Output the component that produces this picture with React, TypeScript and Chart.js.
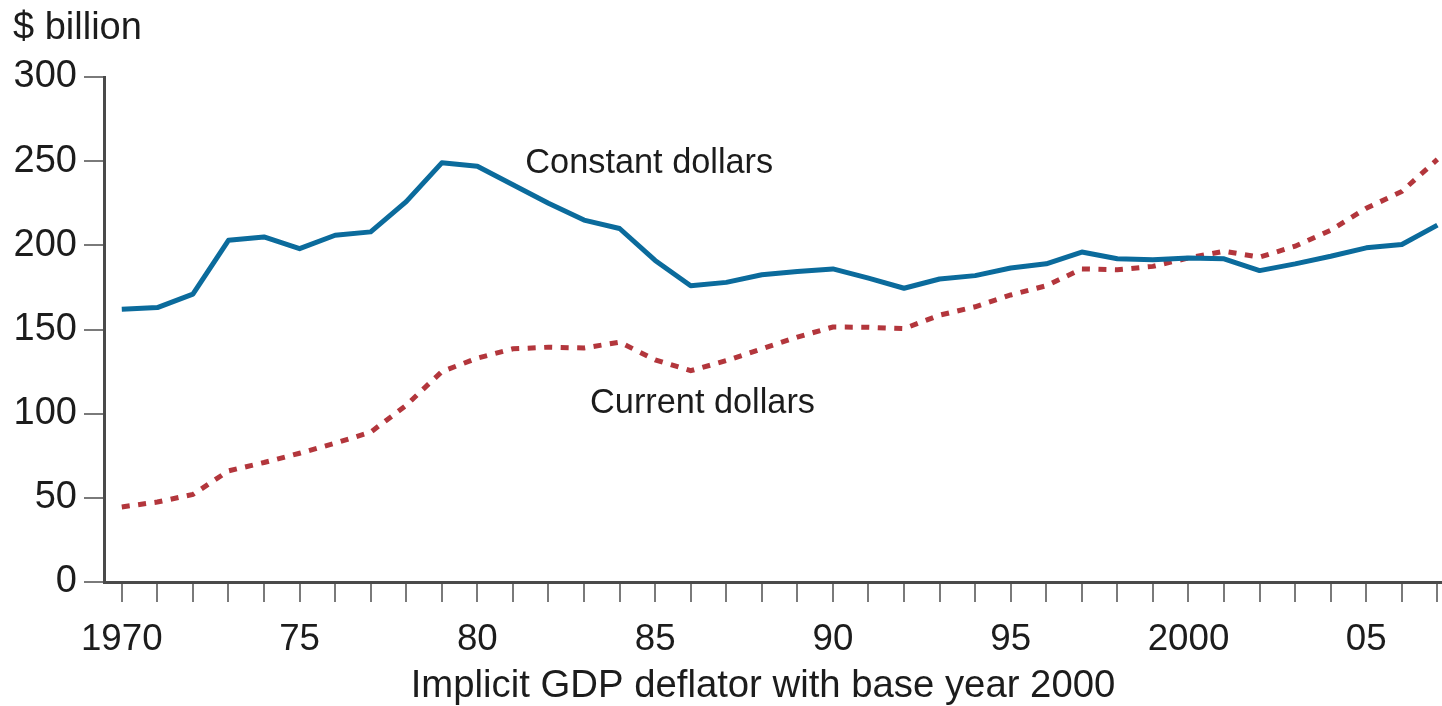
import React, { useEffect, useRef } from "react";
import { Chart, registerables } from "chart.js";

Chart.register(...registerables);

const years = [
  1970, 1971, 1972, 1973, 1974, 1975, 1976, 1977, 1978, 1979,
  1980, 1981, 1982, 1983, 1984, 1985, 1986, 1987, 1988, 1989,
  1990, 1991, 1992, 1993, 1994, 1995, 1996, 1997, 1998, 1999,
  2000, 2001, 2002, 2003, 2004, 2005, 2006, 2007,
];

const constantDollars = [
  162, 163, 171, 203, 205, 198, 206, 208, 226, 249,
  247, 236, 225, 215, 210, 191, 176, 178, 182.5, 184.5,
  186, 180.5, 174.5, 180, 182, 186.5, 189, 196, 192, 191.5,
  192.5, 192, 185, 189, 193.5, 198.5, 200.5, 212,
];

const currentDollars = [
  44.6, 47.5, 52, 66, 71, 76.5, 82.5, 89, 105, 125,
  133, 138.5, 139.5, 139, 142.5, 132, 125.5, 131.5, 138.5, 145.5,
  151.5, 151.3, 150.5, 158.5, 163.5, 170.5, 176, 186, 185.5, 187.5,
  192.5, 196.5, 193, 199.5, 209, 222, 232, 251,
];

const labeledYears = [1970, 1975, 1980, 1985, 1990, 1995, 2000, 2005];
const yearLabels = ["1970", "75", "80", "85", "90", "95", "2000", "05"];
const yTicks = [0, 50, 100, 150, 200, 250, 300];

const FONT = "'Liberation Sans', Arial, Helvetica, sans-serif";
const TEXT = "#1c1c1c";

const textPlugin = {
  id: "texts",
  afterDraw(chart: any) {
    const { ctx, scales } = chart;
    const x = scales.x;
    const y = scales.y;
    ctx.save();
    ctx.fillStyle = TEXT;
    ctx.textBaseline = "alphabetic";
    ctx.textAlign = "left";
    ctx.font = `38px ${FONT}`;
    ctx.fillText("$ billion", 13, 39);
    ctx.font = `34.3px ${FONT}`;
    ctx.fillText("Constant dollars", x.getPixelForValue(1981.35), y.getPixelForValue(243));
    ctx.fillText("Current dollars", x.getPixelForValue(1983.17), y.getPixelForValue(100.3));
    ctx.font = `38.3px ${FONT}`;
    ctx.textAlign = "center";
    ctx.fillText("Implicit GDP deflator with base year 2000", 763, 697);
    ctx.restore();
  },
};

export default function App() {
  const ref = useRef<HTMLCanvasElement | null>(null);

  useEffect(() => {
    if (!ref.current) return;
    const chart = new Chart(ref.current, {
      type: "line",
      data: {
        datasets: [
          {
            label: "Constant dollars",
            data: years.map((yr, i) => ({ x: yr, y: constantDollars[i] })),
            borderColor: "#0b6b9c",
            borderWidth: 5,
            pointRadius: 0,
            tension: 0,
            borderJoinStyle: "round",
          },
          {
            label: "Current dollars",
            data: years.map((yr, i) => ({ x: yr, y: currentDollars[i] })),
            borderColor: "#b3363c",
            borderWidth: 5,
            borderDash: [8, 8.5],
            borderCapStyle: "butt",
            pointRadius: 0,
            tension: 0,
          },
        ],
      },
      options: {
        animation: false,
        responsive: false,
        devicePixelRatio: 1,
        layout: { padding: { top: 77, right: 0, left: 0, bottom: 0 } },
        plugins: {
          legend: { display: false },
          tooltip: { enabled: false },
          title: { display: false },
        },
        scales: {
          x: {
            type: "linear",
            min: 1969.5,
            max: 2007.13,
            afterBuildTicks: (scale: any) => {
              scale.ticks = years.map((v) => ({ value: v }));
            },
            afterFit: (scale: any) => {
              scale.height = 124;
              scale.paddingLeft = 0;
              scale.paddingRight = 0;
            },
            border: { display: true, color: "#4a4a4a", width: 3 },
            grid: {
              drawOnChartArea: false,
              drawTicks: true,
              tickLength: 20,
              color: "#7a7a7a",
              lineWidth: 2,
            },
            ticks: {
              autoSkip: false,
              maxRotation: 0,
              minRotation: 0,
              padding: 16,
              color: TEXT,
              font: { family: FONT, size: 36.7 },
              callback: (v: any) => {
                const idx = labeledYears.indexOf(Number(v));
                return idx >= 0 ? yearLabels[idx] : "";
              },
            },
          },
          y: {
            type: "linear",
            min: 0,
            max: 300,
            afterBuildTicks: (scale: any) => {
              scale.ticks = yTicks.map((v) => ({ value: v }));
            },
            afterFit: (scale: any) => {
              scale.width = 104;
              scale.paddingTop = 0;
              scale.paddingBottom = 0;
            },
            border: { display: true, color: "#4a4a4a", width: 3 },
            grid: {
              drawOnChartArea: false,
              drawTicks: true,
              tickLength: 20,
              color: "#7a7a7a",
              lineWidth: 2,
            },
            ticks: {
              padding: 7,
              color: TEXT,
              font: { family: FONT, size: 38 },
            },
          },
        },
      },
      plugins: [textPlugin],
    });
    return () => chart.destroy();
  }, []);

  return (
    <div style={{ position: "absolute", left: 0, top: 0, width: 1442, height: 706, background: "#fff" }}>
      <canvas ref={ref} width={1442} height={706} style={{ width: 1442, height: 706 }} />
    </div>
  );
}
